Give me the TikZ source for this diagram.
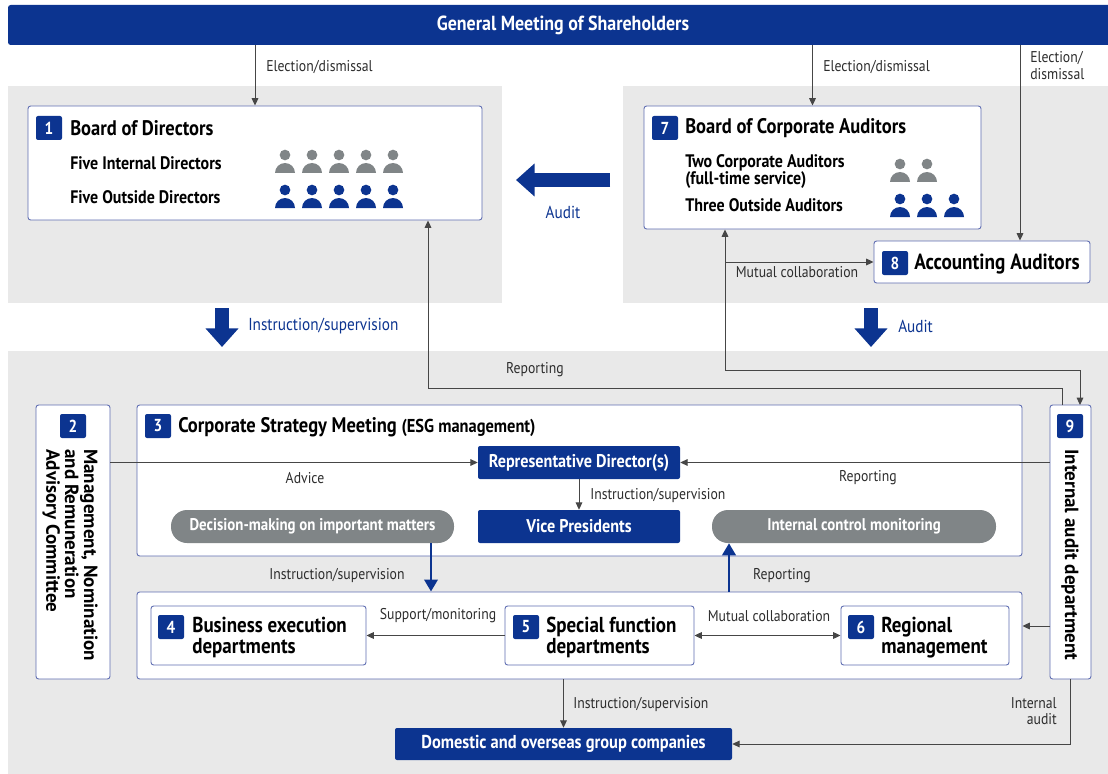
\documentclass[tikz,border=0pt]{standalone}
\usepackage{fontspec}
\setmainfont{PT Sans}[FakeStretch=0.88]
\newfontfamily\widefont{PT Sans}
\usetikzlibrary{arrows.meta,positioning,fit,calc}
\definecolor{navy}{RGB}{12,52,144}
\definecolor{panelgray}{RGB}{233,233,233}
\definecolor{pillgray}{RGB}{128,133,135}
\definecolor{boxline}{RGB}{96,110,178}
\definecolor{linegray}{RGB}{70,70,70}
\definecolor{labelgray}{RGB}{45,45,45}

\begin{document}
\begin{tikzpicture}[x=0.75pt,y=-0.75pt,
    panel/.style={fill=panelgray, draw=none},
    frame/.style={draw=boxline, fill=white, rounded corners=2pt, line width=0.7pt, inner sep=0pt},
    solid box/.style={fill=navy, rounded corners=1.5pt, inner sep=0pt},
    pill/.style={fill=pillgray, rounded corners=12pt, inner sep=0pt},
    boxtext/.style={text=white, inner sep=0pt, font=\bfseries\fontsize{13.8}{15}\selectfont},
    pilltext/.style={text=white, inner sep=0pt, font=\bfseries\fontsize{12.7}{14}\selectfont},
    badge/.style={fill=navy, text=white, font=\bfseries\fontsize{13}{13}\selectfont, minimum width=19.5pt, minimum height=18pt, inner sep=0pt, rounded corners=1.5pt},
    title/.style={anchor=west, inner sep=0pt, font=\bfseries\fontsize{15.8}{17}\selectfont},
    member/.style={anchor=west, inner sep=0pt, align=left, font=\bfseries\fontsize{13.6}{12.8}\selectfont},
    dept/.style={anchor=west, inner sep=0pt, align=left, font=\bfseries\fontsize{16.2}{15.8}\selectfont},
    lbl/.style={inner sep=0pt, text=labelgray, font=\fontsize{11.7}{12.5}\selectfont},
    bluelbl/.style={inner sep=0pt, text=navy, font=\fontsize{13}{14}\selectfont},
    vert/.style={rotate=-90, inner sep=0pt, font=\widefont\bfseries\fontsize{14.3}{14.2}\selectfont},
    link/.style={draw=linegray, line width=0.75pt, -{Triangle[length=5.5pt,width=5pt]}},
    both/.style={link, {Triangle[length=5.5pt,width=5pt]}-{Triangle[length=5.5pt,width=5pt]}},
    flow/.style={draw=navy, line width=2pt, -{Triangle[length=9pt,width=10pt]}},
    fat/.style={draw=navy, line width=10.5pt, -{Triangle[length=14pt,width=24pt]}},
  ]
  \useasboundingbox[fill=white] (0,0) rectangle (1108,774);

  % background panels
  \fill[panel] (8,86) rectangle (502,303);
  \fill[panel] (623,86) rectangle (1108,303);
  \fill[panel] (8,351) rectangle (1108,774);

  % shareholders
  \node (gms) [solid box, rounded corners=2pt, fit={(8,5) (1114,45)}] {};
  \node [boxtext, font=\bfseries\fontsize{15.3}{16}\selectfont] at (563,25) {General Meeting of Shareholders};

  % 1 board of directors
  \node (bod) [frame, fit={(28,106) (482,220)}] {};
  \node (n1) [badge] at (49,128) {1};
  \node [title] at (70,128) {Board of Directors};
  \node [member] at (70,163) {Five Internal Directors};
  \node [member] at (70,197) {Five Outside Directors};
  \foreach \i in {0,...,4} {
    \fill[pillgray] (285+27*\i,155) circle[radius=4pt];
    \fill[pillgray] (275+27*\i,173) arc[start angle=180,end angle=0,radius=7.5pt] -- cycle;
    \fill[navy] (285+27*\i,190) circle[radius=4pt];
    \fill[navy] (275+27*\i,208) arc[start angle=180,end angle=0,radius=7.5pt] -- cycle;
  }

  % 7 board of corporate auditors
  \node (bca) [frame, fit={(644,106) (981,229)}] {};
  \node (n7) [badge] at (665,128) {7};
  \node [title] at (685,128) {Board of Corporate Auditors};
  \node [member] at (685,171.5) {Two Corporate Auditors\\(full-time service)};
  \node [member] at (685,205) {Three Outside Auditors};
  \foreach \i in {0,1} {
    \fill[pillgray] (900+27*\i,164) circle[radius=4pt];
    \fill[pillgray] (890+27*\i,182) arc[start angle=180,end angle=0,radius=7.5pt] -- cycle;
  }
  \foreach \i in {0,1,2} {
    \fill[navy] (900+27*\i,199) circle[radius=4pt];
    \fill[navy] (890+27*\i,217) arc[start angle=180,end angle=0,radius=7.5pt] -- cycle;
  }

  % 8 accounting auditors
  \node (acc) [frame, fit={(874,241) (1090,283)}] {};
  \node (n8) [badge] at (895,263) {8};
  \node [title, font=\bfseries\fontsize{16.4}{17}\selectfont] at (914,264) {Accounting Auditors};

  % 2 committee
  \node (nmr) [frame, fit={(36,405) (110,679)}] {};
  \node (n2) [badge] at (73,426) {2};
  \node [vert, anchor=north west, align=left] at (98,449)
    {Management, Nomination\\and Remuneration\\Advisory Committee};

  % 9 internal audit
  \node (iad) [frame, fit={(1050,405) (1091,679)}] {};
  \node (n9) [badge] at (1070,426) {9};
  \node [vert, anchor=west] at (1070,449) {Internal audit department};

  % 3 corporate strategy meeting
  \node (csm) [frame, fit={(137,405) (1022,556)}] {};
  \node (n3) [badge] at (158,426) {3};
  \node [title] at (178,427) {Corporate Strategy Meeting {\fontsize{14}{15}\selectfont (ESG management)}};
  \node (rep) [solid box, fit={(478,446) (680,479)}] {};
  \node [boxtext] at (rep.center) {Representative Director(s)};
  \node (vp) [solid box, fit={(478,510) (680,543)}] {};
  \node [boxtext] at (vp.center) {Vice Presidents};
  \node (dec) [pill, fit={(171,510) (454,543)}] {};
  \node [pilltext] at (dec.center) {Decision-making on important matters};
  \node (icm) [pill, fit={(712,510) (996,543)}] {};
  \node [pilltext] at (icm.center) {Internal control monitoring};

  % 4 5 6 execution
  \node (exe) [frame, fit={(137,592) (1022,679)}] {};
  \node (bed) [frame, fit={(151,606) (366,665)}] {};
  \node (n4) [badge] at (171,627) {4};
  \node [dept] at (192,637.5) {Business execution\\departments};
  \node (sfd) [frame, fit={(505,606) (694,665)}] {};
  \node (n5) [badge] at (526,627) {5};
  \node [dept] at (546,637.5) {Special function\\departments};
  \node (rgm) [frame, fit={(841,606) (1009,665)}] {};
  \node (n6) [badge] at (861,627) {6};
  \node [dept] at (881,637.5) {Regional\\management};

  \node (grp) [solid box, fit={(395,728) (732,760)}] {};
  \node [boxtext, font=\bfseries\fontsize{14}{15}\selectfont] at (grp.center) {Domestic and overseas group companies};

  % connectors
  \draw[link] (gms.south -| bod.north) -- (bod.north);
  \node [lbl, anchor=west] at (266,67) {Election/dismissal};
  \draw[link] (gms.south -| bca.north) -- (bca.north);
  \node [lbl, anchor=west] at (823,67) {Election/dismissal};
  \coordinate (ea) at (1020,45);
  \draw[link] (ea) -- (ea |- acc.north);
  \node [lbl, anchor=north west, align=left] at (1030,51) {Election/\\dismissal};

  \coordinate (mc) at (725,370);
  \draw[both] (mc |- bca.south) -- (mc) -- (1080,370) -- (1080,405);
  \draw[link] (mc |- acc.west) -- (acc.west);
  \node [lbl] at (797,272) {Mutual collaboration};

  \coordinate (rp) at (428,388);
  \draw[link] (1062,405) -- (1062,388) -- (rp) -- (rp |- bod.south);
  \node [lbl] at (535,370) {Reporting};

  \draw[fat] (610,180) -- (516,180);
  \node [bluelbl] at (563,212) {Audit};
  \draw[fat] (222,308) -- (222,347);
  \node [bluelbl, anchor=west] at (248,326) {Instruction/supervision};
  \draw[fat] (871,308) -- (871,347);
  \node [bluelbl, anchor=west] at (898,326) {Audit};

  \draw[link] (rep.west -| nmr.east) -- (rep.west);
  \node [lbl] at (305,478) {Advice};
  \draw[link] (rep.east -| iad.west) -- (rep.east);
  \node [lbl] at (868,478) {Reporting};
  \draw[link] (rep.south) -- (vp.north);
  \node [lbl, anchor=west] at (590,496) {Instruction/supervision};

  \coordinate (d1) at (431,543);
  \draw[flow] (d1) -- (d1 |- exe.north);
  \node [lbl] at (337,576) {Instruction/supervision};
  \coordinate (r1) at (729,592);
  \draw[flow] (r1) -- (r1 |- icm.south);
  \node [lbl] at (782,576) {Reporting};

  \draw[link] (sfd.west) -- (bed.east);
  \node [lbl] at (438,616) {Support/monitoring};
  \draw[both] (sfd.east) -- (rgm.west);
  \node [lbl] at (769,616) {Mutual collaboration};
  \coordinate (ia) at (1050,626);
  \draw[link] (ia) -- (ia -| exe.east);

  \draw[link] (exe.south -| grp.north) -- (grp.north);
  \node [lbl, anchor=west] at (573,705) {Instruction/supervision};
  \draw[link] (iad.south) |- (grp.east);
  \node [lbl, anchor=east, align=right] at (1057,711) {Internal\\audit};
\end{tikzpicture}
\end{document}
